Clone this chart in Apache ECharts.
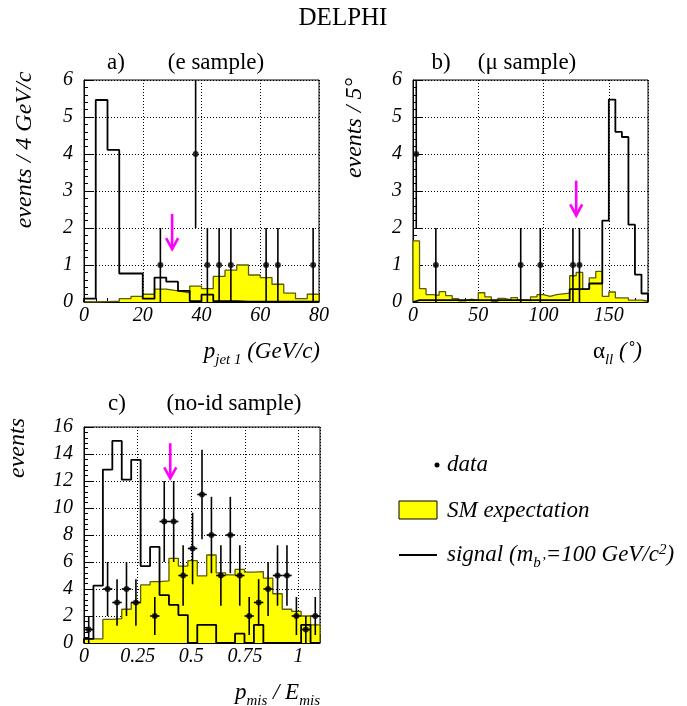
<!DOCTYPE html>
<html><head><meta charset="utf-8">
<script src="https://cdn.jsdelivr.net/npm/echarts@6/dist/echarts.min.js"></script>
<style>html,body{margin:0;padding:0;background:#fff}#c{width:687px;height:706px}</style>
</head><body><div id="c"></div>
<script>
// ---------- Panel a : p_jet1 (e sample), 4 GeV/c bins ----------
const aBinStart = 0, aBinWidth = 4;
const aSM     = [0.00, 0.01, 0.02, 0.09, 0.15, 0.21, 0.35, 0.30, 0.25, 0.43, 0.36, 0.69, 0.86, 1.00, 0.73, 0.66, 0.48, 0.24, 0.09, 0.21];
const aSignal = [0.09, 5.46, 4.11, 0.77, 0.77, 0.09, 0.66, 0.55, 0.30, 0.02, 0.20, 0.02, 0.02, 0.01, 0.01, 0.01, 0.01, 0.01, 0.01, 0.01];
const aDataX  = [26, 38, 42, 46, 50, 62, 66, 78];
const aDataY  = [1, 4, 1, 1, 1, 1, 1, 1];
const aDataErr= [1, 2, 1, 1, 1, 1, 1, 1];
const aArrow  = [30, 2.38, 1.43];

// ---------- Panel b : alpha_ll (mu sample), 5 deg bins ----------
const bBinStart = 0, bBinWidth = 5;
const bSM     = [1.65, 0.36, 0.20, 0.18, 0.28, 0.17, 0.09, 0.03, 0.08, 0.04, 0.25, 0.14, 0.02, 0.10, 0.06, 0.12, 0.05, 0.04,
                 0.14, 0.20, 0.15, 0.20, 0.22, 0.24, 0.71, 0.80, 0.35, 0.65, 0.83, 0.15, 0.27, 0.11, 0.11, 0.05, 0.05, 0.03];
const bSignal = [0.05, 0.05, 0.05, 0.05, 0.05, 0.05, 0.05, 0.05, 0.05, 0.05, 0.05, 0.05, 0.05, 0.05, 0.05, 0.05, 0.05, 0.05,
                 0.05, 0.05, 0.05, 0.05, 0.05, 0.05, 0.35, 0.35, 0.35, 0.50, 0.50, 2.20, 5.47, 4.60, 4.46, 2.09, 0.74, 0.23];
const bDataX  = [2.5, 17.5, 82.5, 97.5, 122.5, 127.5];
const bDataY  = [4, 1, 1, 1, 1, 1];
const bDataErr= [2, 1, 1, 1, 1, 1];
const bArrow  = [125, 3.28, 2.34];

// ---------- Panel c : p_mis/E_mis (no-id sample), 0.044 bins ----------
const cBinStart = 0, cBinWidth = 0.044;
const cSM     = [0.30, 0.30, 1.75, 1.80, 2.50, 3.00, 4.30, 4.55, 4.60, 6.27, 5.70, 6.10, 4.97, 6.52, 5.20, 5.05, 5.45, 5.25, 5.28, 4.80, 3.65, 2.50, 2.35, 2.00, 1.35];
const cSignal = [0.30, 4.25, 12.85, 14.97, 12.10, 13.57, 5.70, 7.12, 3.55, 2.83, 2.07, 0.00, 1.35, 1.35, 0.00, 0.00, 0.69, 0.00, 1.35, 0.00, 0.00, 0.00, 0.00, 1.35, 0.00];
const cDataX  = [0.022, 0.110, 0.154, 0.198, 0.242, 0.330, 0.374, 0.418, 0.462, 0.506, 0.550, 0.594, 0.638, 0.682, 0.726, 0.770, 0.814, 0.858, 0.902, 0.946, 0.990, 1.034, 1.078];
const cDataY  = [1, 4, 3, 4, 3, 2, 9, 9, 5, 7, 11, 8, 5, 8, 5, 2, 3, 4, 5, 5, 2, 1, 2];
const cDataErr= [1, 2, 1.73, 2, 1.73, 1.41, 3, 3, 2.24, 2.65, 3.32, 2.83, 2.24, 2.83, 2.24, 1.41, 1.73, 2, 2.24, 2.24, 1.41, 1, 1.41];
const cDataXErr = 0.022;
const cArrow  = [0.402, 14.8, 12.2];

// ---------- helpers ----------
const FONT = '"Liberation Serif", "DejaVu Serif", serif';
function histPoints(start, width, vals) {
  const pts = [[start, 0]];
  vals.forEach((v, i) => pts.push([start + i * width, v]));
  pts.push([start + vals.length * width, vals[vals.length - 1]]);
  pts.push([start + vals.length * width, 0]);
  return pts;
}
function errRender(params, api) {
  const cs = params.coordSys;
  const x = api.value(0), y = api.value(1), e = api.value(2), xe = api.value(3);
  const top = api.coord([x, y + e]), bot = api.coord([x, y - e]);
  const t = Math.max(top[1], cs.y), b = Math.min(bot[1], cs.y + cs.height);
  const st = {stroke: '#000', lineWidth: 1.6};
  const children = [{type: 'line', shape: {x1: top[0], y1: t, x2: top[0], y2: b}, style: st}];
  if (xe > 0) {
    const l = api.coord([x - xe, y]), r = api.coord([x + xe, y]);
    children.push({type: 'line', shape: {x1: l[0], y1: l[1], x2: r[0], y2: r[1]}, style: st});
  }
  return {type: 'group', children};
}
function arrowRender(params, api) {
  const p1 = api.coord([api.value(0), api.value(1)]);
  const p2 = api.coord([api.value(0), api.value(2)]);
  const st = {stroke: '#ff00ff', lineWidth: 2.6, fill: null};
  return {type: 'group', children: [
    {type: 'line', shape: {x1: p1[0], y1: p1[1], x2: p2[0], y2: p2[1]}, style: st},
    {type: 'polyline', shape: {points: [[p2[0] - 6, p2[1] - 11], [p2[0], p2[1]], [p2[0] + 6, p2[1] - 11]]}, style: st}
  ]};
}
function xAxisCfg(gi, min, max, interval) {
  return {gridIndex: gi, type: 'value', min, max, interval,
    axisLine: {show: true, onZero: false, lineStyle: {color: '#000', width: 1}},
    axisTick: {show: true, inside: true, length: 9, lineStyle: {color: '#000'}},
    minorTick: {show: true, splitNumber: 5, length: 4, lineStyle: {color: '#000'}},
    splitLine: {show: true, lineStyle: {color: '#000', type: [1, 2], width: 1}},
    axisLabel: {fontFamily: FONT, fontStyle: 'italic', fontSize: 20, color: '#000', margin: 4, showMaxLabel: gi === 0}};
}
function yAxisCfg(gi, min, max, interval) {
  return {gridIndex: gi, type: 'value', min, max, interval,
    axisLine: {show: true, onZero: false, lineStyle: {color: '#000', width: 1}},
    axisTick: {show: true, inside: true, length: 9, lineStyle: {color: '#000'}},
    minorTick: {show: true, splitNumber: 5, length: 4, lineStyle: {color: '#000'}},
    splitLine: {show: true, lineStyle: {color: '#000', type: [1, 2], width: 1}},
    axisLabel: {fontFamily: FONT, fontStyle: 'italic', fontSize: 20, color: '#000', margin: 11}};
}
function panelSeries(gi, bs, bw, sm, sig, dx, dy, derr, dxerr, arrow) {
  const idx = {xAxisIndex: gi, yAxisIndex: gi};
  return [
    Object.assign({type: 'line', step: 'end', symbol: 'none', data: histPoints(bs, bw, sm), z: 2,
      lineStyle: {color: '#5c5c00', width: 1.3}, areaStyle: {color: '#ffff00', opacity: 1}}, idx),
    Object.assign({type: 'line', step: 'end', symbol: 'none', data: histPoints(bs, bw, sig), z: 3,
      lineStyle: {color: '#000', width: 1.8}}, idx),
    Object.assign({type: 'custom', renderItem: errRender, z: 4,
      encode: {x: 0, y: 1},
      data: dx.map((x, i) => [x, dy[i], derr[i], dxerr])}, idx),
    Object.assign({type: 'scatter', symbol: 'circle', symbolSize: 6, z: 5,
      itemStyle: {color: '#000'}, data: dx.map((x, i) => [x, dy[i]])}, idx),
    Object.assign({type: 'custom', renderItem: arrowRender, z: 6,
      encode: {x: 0, y: [1, 2]}, data: [arrow]}, idx)
  ];
}
function txt(x, y, text, opts) {
  return {type: 'text', x, y, silent: true,
    style: Object.assign({text, fontFamily: FONT, fontSize: 23, fill: '#000', align: 'left', verticalAlign: 'middle'}, opts || {})};
}
const subRich = {
  m: {fontFamily: FONT, fontStyle: 'italic', fontSize: 23, lineHeight: 24, verticalAlign: 'top'},
  n: {fontFamily: FONT, fontStyle: 'normal', fontSize: 23, lineHeight: 24, verticalAlign: 'top'},
  s: {fontFamily: FONT, fontStyle: 'italic', fontSize: 15, lineHeight: 16, verticalAlign: 'top', padding: [13, 0, 0, 0]},
  u: {fontFamily: FONT, fontStyle: 'italic', fontSize: 15, lineHeight: 16, verticalAlign: 'top', padding: [0, 0, 0, 0]}
};
function richTxt(x, y, text, align) {
  return {type: 'text', x, y, silent: true,
    style: {text, rich: subRich, align: align, verticalAlign: 'middle', fill: '#000', fontFamily: FONT, fontSize: 23}};
}

const chart = echarts.init(document.getElementById('c'), null, {renderer: 'canvas'});
chart.setOption({
  animation: false,
  backgroundColor: '#fff',
  grid: [
    {left: 84, top: 80, width: 235, height: 222, show: true, borderColor: '#000', borderWidth: 1, backgroundColor: 'transparent'},
    {left: 413, top: 80, width: 235, height: 222, show: true, borderColor: '#000', borderWidth: 1, backgroundColor: 'transparent'},
    {left: 84, top: 427, width: 236, height: 216, show: true, borderColor: '#000', borderWidth: 1, backgroundColor: 'transparent'}
  ],
  xAxis: [xAxisCfg(0, 0, 80, 20), xAxisCfg(1, 0, 180, 50), xAxisCfg(2, 0, 1.1, 0.25)],
  yAxis: [yAxisCfg(0, 0, 6, 1), yAxisCfg(1, 0, 6, 1), yAxisCfg(2, 0, 16, 2)],
  series: [].concat(
    panelSeries(0, aBinStart, aBinWidth, aSM, aSignal, aDataX, aDataY, aDataErr, 0, aArrow),
    panelSeries(1, bBinStart, bBinWidth, bSM, bSignal, bDataX, bDataY, bDataErr, 0, bArrow),
    panelSeries(2, cBinStart, cBinWidth, cSM, cSignal, cDataX, cDataY, cDataErr, cDataXErr, cArrow)
  ),
  graphic: [
    txt(343, 18, 'DELPHI', {align: 'center', fontSize: 25}),
    txt(116, 63, 'a)', {align: 'center'}),
    txt(216, 63, '(e sample)', {align: 'center'}),
    txt(441, 63, 'b)', {align: 'center'}),
    txt(527, 63, '(\u03bc sample)', {align: 'center'}),
    txt(117, 404, 'c)', {align: 'center'}),
    txt(234, 404, '(no-id sample)', {align: 'center'}),
    // y-axis titles
    Object.assign(txt(25, 150, 'events / 4 GeV/c', {align: 'center', fontStyle: 'italic', fontSize: 24}), {rotation: Math.PI / 2}),
    Object.assign(txt(355, 128, 'events / 5\u00b0', {align: 'center', fontStyle: 'italic', fontSize: 24}), {rotation: Math.PI / 2}),
    Object.assign(txt(18, 448, 'events', {align: 'center', fontStyle: 'italic', fontSize: 24}), {rotation: Math.PI / 2}),
    // x-axis titles
    richTxt(320, 352, '{m|p}{s|jet 1}{m| (GeV/c)}', 'right'),
    richTxt(642, 352, '{n|\u03b1}{s|ll}{m| (\u02da)}', 'right'),
    richTxt(320, 693, '{m|p}{s|mis}{m| / E}{s|mis}', 'right'),
    // legend
    {type: 'circle', shape: {cx: 437, cy: 465, r: 2.5}, style: {fill: '#000'}, silent: true},
    txt(447, 465, 'data', {fontStyle: 'italic'}),
    {type: 'rect', shape: {x: 399, y: 501, width: 38, height: 18}, style: {fill: '#ffff00', stroke: '#000', lineWidth: 1}, silent: true},
    txt(447, 511, 'SM expectation', {fontStyle: 'italic'}),
    {type: 'line', shape: {x1: 399, y1: 555, x2: 437, y2: 555}, style: {stroke: '#000', lineWidth: 1.8}, silent: true},
    richTxt(447, 555, '{m|signal (m}{s|b\u2019}{m|=100 GeV/c}{u|2}{m|)}', 'left')
  ]
});
</script>
</body></html>
